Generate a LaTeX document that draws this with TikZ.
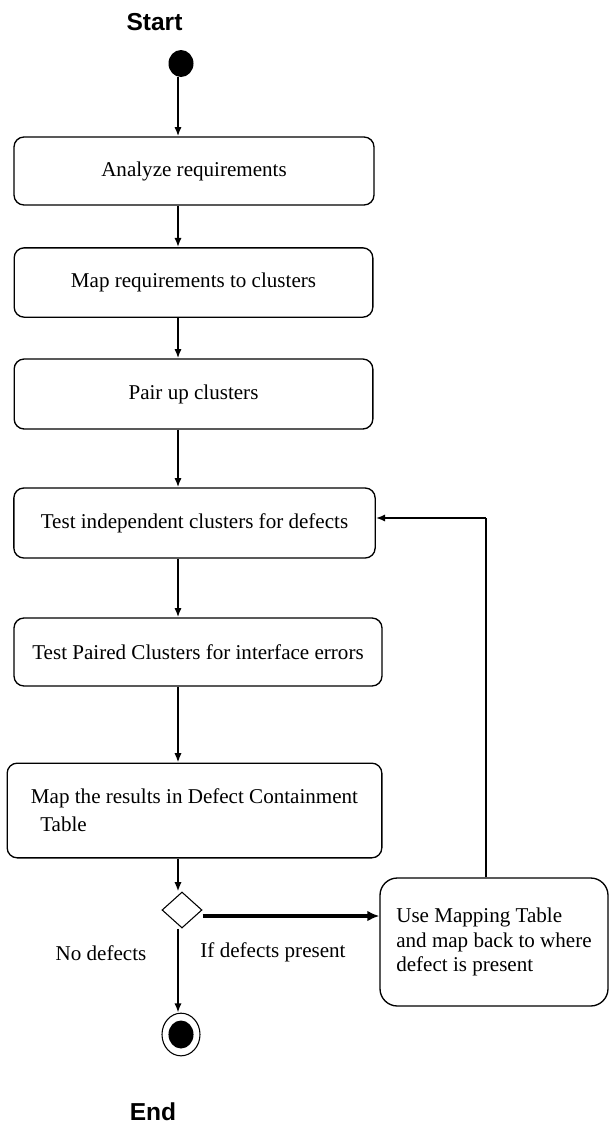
\documentclass[tikz,border=0pt]{standalone}
\usepackage{fontspec}
\setmainfont{Liberation Serif}
\newfontfamily\headfont{Liberation Sans}
\usetikzlibrary{arrows.meta,shapes.geometric}
\tikzset{
  activity/.style={draw, rounded corners=7.5pt, line width=1pt, inner sep=0pt,
    font=\fontsize{15.8}{21}\selectfont},
  flow/.style={line width=1.5pt, -{Latex[length=7pt,width=5.5pt]}},
  heading/.style={font=\headfont\fontsize{18.4}{22}\selectfont\bfseries},
  guard/.style={font=\fontsize{15.8}{19}\selectfont}
}
\begin{document}
\begin{tikzpicture}[x=0.75pt, y=-0.75pt]
\useasboundingbox (0,0) rectangle (609,1129);
\coordinate (spine) at (178,0);
\coordinate (back) at (486,518);
% start and end labels
\node[heading] (starttxt) at (154.5,22) {Start};
\node[heading] (endtxt) at (153,1112) {End};
% initial state
\node[ellipse, fill, minimum width=18.75pt, minimum height=20.25pt, inner sep=0pt] (start) at (181,63.5) {};
% activities
\node[activity, minimum width=270pt, minimum height=51pt] (analyze) at (194,171) {Analyze requirements};
\node[activity, minimum width=269pt, minimum height=52pt] (maprq) at (193.5,282.5) {Map requirements to clusters};
\node[activity, minimum width=269pt, minimum height=52.5pt] (pairup) at (193.5,394) {Pair up clusters};
\node[activity, minimum width=271pt, minimum height=52.5pt] (testind) at (194.5,523) {Test independent clusters for defects};
\node[activity, minimum width=276pt, minimum height=51pt] (testpair) at (198,652) {Test Paired Clusters for interface errors};
\node[activity, minimum width=281pt, minimum height=71pt, align=left] (mapres) at (194.5,810.5)
  {Map the results in Defect Containment\\\hspace*{7pt}Table};
\node[activity, rounded corners=13pt, minimum width=171pt, minimum height=96pt, align=left,
  font=\fontsize{15.8}{18.4}\selectfont] (usemap) at (494,942)
  {Use Mapping Table\\and map back to where\\defect is present};
% decision
\node[diamond, draw, line width=0.8pt, minimum width=30pt, minimum height=27pt, inner sep=0pt] (decide) at (182,910) {};
% final state
\node[ellipse, draw, line width=0.8pt, minimum width=28.5pt, minimum height=32pt, inner sep=0pt] (final) at (181,1034.5) {};
\fill (final) ellipse (9.4pt and 10.5pt);
% guards
\node[guard] (nodef) at (101,953) {No defects};
\node[guard] (ifdef) at (273,952) {If defects present};
% flows
\draw[flow] (spine |- start.south) -- (spine |- analyze.north);
\draw[flow] (spine |- analyze.south) -- (spine |- maprq.north);
\draw[flow] (spine |- maprq.south) -- (spine |- pairup.north);
\draw[flow] (spine |- pairup.south) -- (spine |- testind.north);
\draw[flow] (spine |- testind.south) -- (spine |- testpair.north);
\draw[flow] (spine |- testpair.south) -- (spine |- mapres.north);
\draw[flow] (spine |- mapres.south) -- (spine |- decide.north);
\draw[flow] (spine |- decide.south) -- (spine |- final.north);
\draw[flow, line width=3pt, -{Latex[length=9pt,width=8pt]}] ([yshift=-4.5pt]decide.east) -- ([yshift=-4.5pt]decide.east -| usemap.west);
\draw[line width=0.8pt] (back |- usemap.north) -- (back);
\draw[flow, line width=2pt] (back) -- (back -| testind.east);
\end{tikzpicture}
\end{document}
